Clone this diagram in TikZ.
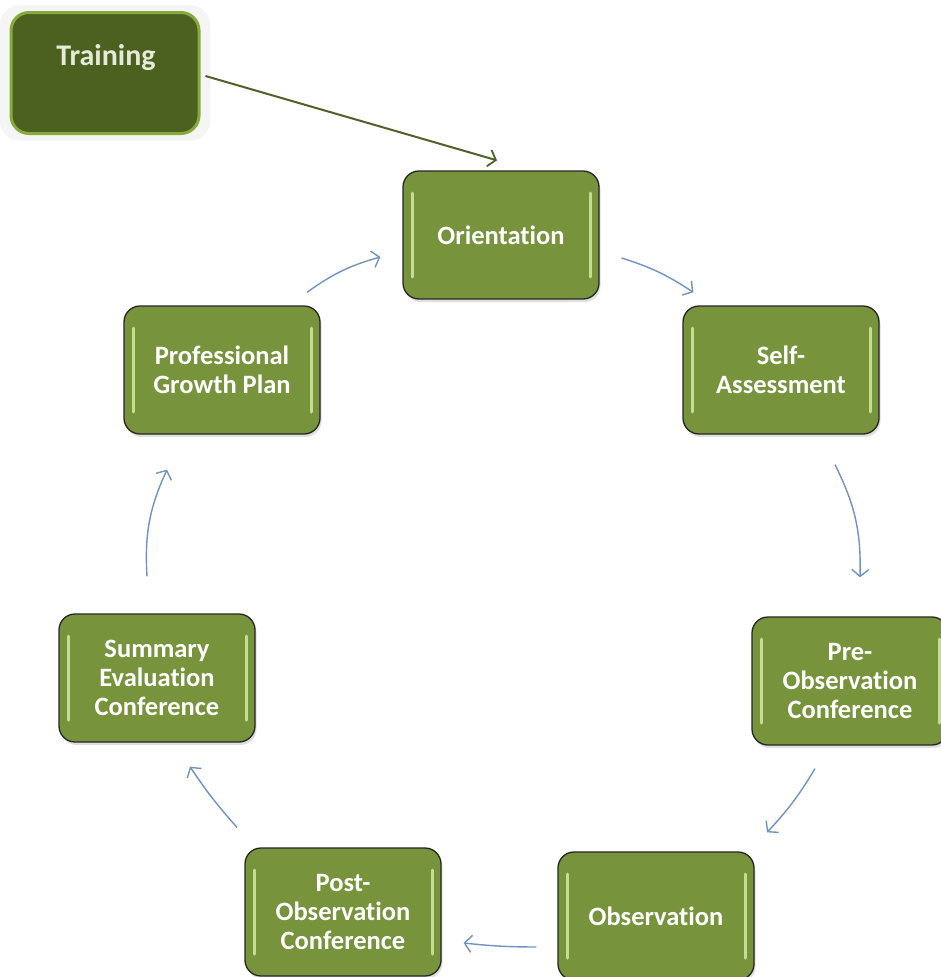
\documentclass[tikz,border=0pt]{standalone}
\usepackage{fontspec}
\setmainfont[Ligatures={NoCommon}]{Carlito}
\usetikzlibrary{arrows.meta,shadows}
\definecolor{boxgreen}{HTML}{77933C}
\definecolor{hlgreen}{HTML}{D2EBA0}
\definecolor{darkgreen}{HTML}{4C6120}
\definecolor{trainedge}{HTML}{86AA3C}
\definecolor{flowblue}{HTML}{7092C4}
\definecolor{linkgreen}{HTML}{4F6228}
\definecolor{traintext}{HTML}{E6EAD8}
\tikzset{
  stage/.style={rounded corners=16pt, draw=black!85, line width=1.3pt, fill=boxgreen,
    text=white, font=\bfseries\fontsize{26.5}{29}\selectfont, align=center,
    minimum width=196pt, minimum height=128pt, inner sep=0pt,
    drop shadow={opacity=0.25, shadow xshift=1.5pt, shadow yshift=-3pt},
    path picture={
      \draw[hlgreen, line width=3pt, line cap=round, opacity=0.85]
        ([shift={(9pt,-22pt)}]path picture bounding box.north west) --
        ([shift={(9pt,22pt)}]path picture bounding box.south west);
      \draw[hlgreen, line width=3pt, line cap=round, opacity=0.85]
        ([shift={(-9pt,-22pt)}]path picture bounding box.north east) --
        ([shift={(-9pt,22pt)}]path picture bounding box.south east);
    }},
  trainbox/.style={rounded corners=18pt, draw=trainedge, line width=3pt, fill=darkgreen,
    minimum width=188pt, minimum height=121pt, inner sep=0pt,
    drop shadow={opacity=0.08, shadow xshift=0pt, shadow yshift=0pt, shadow scale=1.12}},
  trainlabel/.style={text=traintext, font=\bfseries\fontsize{30}{34}\selectfont},
  flow/.style={draw=flowblue, line width=1.4pt, -{Straight Barb[length=7pt,width=17pt,line width=1.4pt]}},
  link/.style={draw=linkgreen, line width=2pt, -{Straight Barb[length=7pt,width=17pt,line width=1.8pt]}}
}
\begin{document}
\begin{tikzpicture}[x=1pt,y=1pt]
\useasboundingbox (0,0) rectangle (940,-977);
\fill[white] (0,0) rectangle (940,-977);

\node[trainbox] (training) at (105,-73) {};
\node[trainlabel] (traininglabel) at (106,-58) {Training};

\node[stage] (orient) at (501,-235) {Orientation};
\node[stage] (self) at (781,-370) {Self-\\Assessment};
\node[stage] (pre) at (850,-681) {Pre-\\Observation\\Conference};
\node[stage] (obs) at (656,-916) {Observation};
\node[stage] (post) at (343,-912) {Post-\\Observation\\Conference};
\node[stage] (summ) at (157,-678) {Summary\\Evaluation\\Conference};
\node[stage] (prof) at (222,-370) {Professional\\Growth Plan};

\draw[link] ([shift={(5,-3)}]training.east) -- ([shift={(-4,10)}]orient.north);

\draw[flow] ([shift={(22,-23)}]orient.east) to[bend left=8] ([shift={(11,13)}]self.north west);
\draw[flow] ([shift={(54,-30)}]self.south) to[bend left=14] ([shift={(10,39)}]pre.north);
\draw[flow] ([shift={(-35,-23)}]pre.south) to[bend left=6] ([shift={(111,19)}]obs.north);
\draw[flow] ([shift={(-21,-31)}]obs.west) to[bend left=3] ([shift={(22,-31)}]post.east);
\draw[flow] ([shift={(-106,20)}]post.north) to[bend left=4] ([shift={(33,-24)}]summ.south);
\draw[flow] ([shift={(-10,37)}]summ.north) to[bend left=14] ([shift={(-55,-35)}]prof.south);
\draw[flow] ([shift={(85,13)}]prof.north) to[bend left=10] ([shift={(-22,-22)}]orient.west);
\end{tikzpicture}
\end{document}
